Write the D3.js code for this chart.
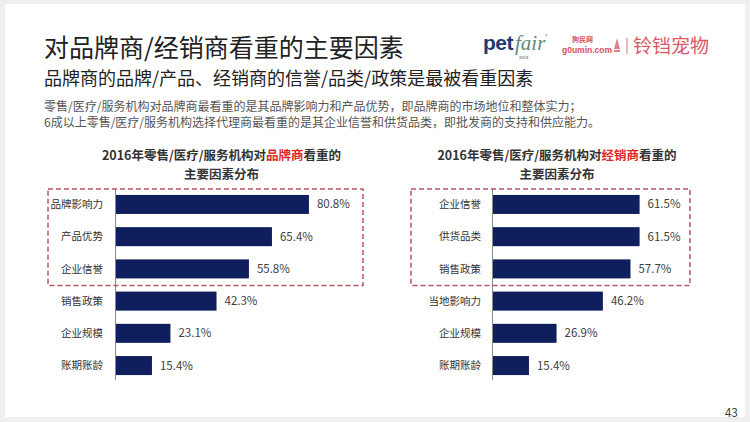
<!DOCTYPE html>
<html><head><meta charset="utf-8">
<script src="https://cdn.jsdelivr.net/npm/d3@7"></script>
<style>
html,body{margin:0;padding:0;background:#fff;}
svg{display:block;font-family:"Noto Sans CJK SC","Noto Sans",sans-serif;}
</style></head>
<body><svg id="c" width="750" height="422"></svg>
<script>
const leftCats = ["品牌影响力","产品优势","企业信誉","销售政策","企业规模","账期账龄"];
const leftVals = [80.8,65.4,55.8,42.3,23.1,15.4];
const rightCats = ["企业信誉","供货品类","销售政策","当地影响力","企业规模","账期账龄"];
const rightVals = [61.5,61.5,57.7,46.2,26.9,15.4];
const leftTitle = ["2016年零售/医疗/服务机构对","品牌商","看重的"];
const rightTitle = ["2016年零售/医疗/服务机构对","经销商","看重的"];
const titleLine2 = "主要因素分布";

const svg = d3.select("#c");
// page frame
svg.append("rect").attr("width",750).attr("height",422).attr("fill","#efefef");
svg.append("rect").attr("x",5).attr("y",4).attr("width",740).attr("height",413).attr("fill","#ffffff");

// header
svg.append("text").attr("x",44).attr("y",57).attr("font-size",25).attr("fill","#222")
  .text("对品牌商/经销商看重的主要因素");
svg.append("text").attr("x",44).attr("y",85).attr("font-size",18).attr("fill","#222")
  .text("品牌商的品牌/产品、经销商的信誉/品类/政策是最被看重因素");
svg.append("text").attr("x",44).attr("y",111).attr("font-size",12).attr("fill","#555")
  .text("零售/医疗/服务机构对品牌商最看重的是其品牌影响力和产品优势，即品牌商的市场地位和整体实力；");
svg.append("text").attr("x",44).attr("y",127).attr("font-size",12).attr("fill","#555")
  .text("6成以上零售/医疗/服务机构选择代理商最看重的是其企业信誉和供货品类，即批发商的支持和供应能力。");

// logos
const lg = svg.append("g");
lg.append("text").attr("x",483).attr("y",50).attr("font-size",21).attr("font-weight",700)
  .attr("fill","#1f3a7a").attr("font-family","Liberation Sans, sans-serif").attr("letter-spacing",-0.5).text("pet");
lg.append("text").attr("x",515).attr("y",50).attr("font-size",21).attr("font-style","italic")
  .attr("fill","#5f8a7a").attr("font-family","Liberation Serif, serif").text("fair");
lg.append("text").attr("x",545).attr("y",38).attr("font-size",5).attr("fill","#6a8a80").text("®");
lg.append("text").attr("x",519).attr("y",59).attr("font-size",5).attr("fill","#6a8a80")
  .attr("font-family","Liberation Sans, sans-serif").text("asia");
lg.append("text").attr("x",572).attr("y",42).attr("font-size",7).attr("font-weight",700).attr("fill","#d8505e").text("狗民网");
lg.append("text").attr("x",562).attr("y",53).attr("font-size",8.5).attr("font-weight",700).attr("fill","#d8505e")
  .attr("font-family","Liberation Sans, sans-serif").text("g0umin.com");
lg.append("path").attr("d","M617,38 L614,49 L620,49 Z M614,50 L620,50 L620,52 L614,52 Z").attr("fill","#e08088");
lg.append("line").attr("x1",627).attr("x2",627).attr("y1",38).attr("y2",54).attr("stroke","#e07080").attr("stroke-width",1);
lg.append("text").attr("x",633).attr("y",53).attr("font-size",19).attr("fill","#dc5866").text("铃铛宠物");

// charts
function drawChart(cats, vals, titleParts, axisX, labelRight, box, titleCx) {
  const g = svg.append("g");
  const x = d3.scaleLinear().domain([0,100]).range([axisX, axisX+240]);
  const y = d3.scaleBand().domain(cats).range([188.5,381.5]).paddingInner(0.41).paddingOuter(0.2);

  const t1 = g.append("text").attr("x",titleCx).attr("y",160).attr("text-anchor","middle")
    .attr("font-size",12.5).attr("font-weight",700).attr("fill","#333");
  t1.append("tspan").text(titleParts[0]);
  t1.append("tspan").attr("fill","#e02828").text(titleParts[1]);
  t1.append("tspan").text(titleParts[2]);
  g.append("text").attr("x",titleCx).attr("y",178.5).attr("text-anchor","middle")
    .attr("font-size",12.5).attr("font-weight",700).attr("fill","#333").text(titleLine2);

  g.selectAll("rect.bar").data(vals).enter().append("rect").attr("class","bar")
    .attr("x",x(0)).attr("y",(d,i)=>y(cats[i]))
    .attr("width",d=>x(d)-x(0)).attr("height",y.bandwidth()).attr("fill","#0f1e5c");

  g.append("line").attr("x1",axisX+0.5).attr("x2",axisX+0.5).attr("y1",188).attr("y2",380)
    .attr("stroke","#8a8a8a").attr("stroke-width",1);

  g.selectAll("text.cat").data(cats).enter().append("text").attr("class","cat")
    .attr("x",labelRight).attr("y",d=>y(d)+y.bandwidth()/2).attr("dy","0.35em")
    .attr("text-anchor","end").attr("font-size",10.5).attr("fill","#333").text(d=>d);

  g.selectAll("text.val").data(vals).enter().append("text").attr("class","val")
    .attr("x",d=>x(d)+8).attr("y",(d,i)=>y(cats[i])+y.bandwidth()/2).attr("dy","0.35em")
    .attr("font-size",11.5).attr("fill","#404040").text(d=>d.toFixed(1)+"%");

  const top = y(cats[0]) - 6, bottom = y(cats[2]) + y.bandwidth() + 7;
  g.append("rect").attr("x",box[0]).attr("y",top).attr("width",box[1]-box[0]).attr("height",bottom-top)
    .attr("fill","none").attr("stroke","#b85462").attr("stroke-width",1.5).attr("stroke-dasharray","5,3");
}
drawChart(leftCats, leftVals, leftTitle, 115, 103, [48,363], 221.5);
drawChart(rightCats, rightVals, rightTitle, 492, 481, [411,690], 557);

// page number
svg.append("text").attr("x",738).attr("y",417).attr("text-anchor","end").attr("font-size",12)
  .attr("fill","#444").text("43");
</script></body></html>
